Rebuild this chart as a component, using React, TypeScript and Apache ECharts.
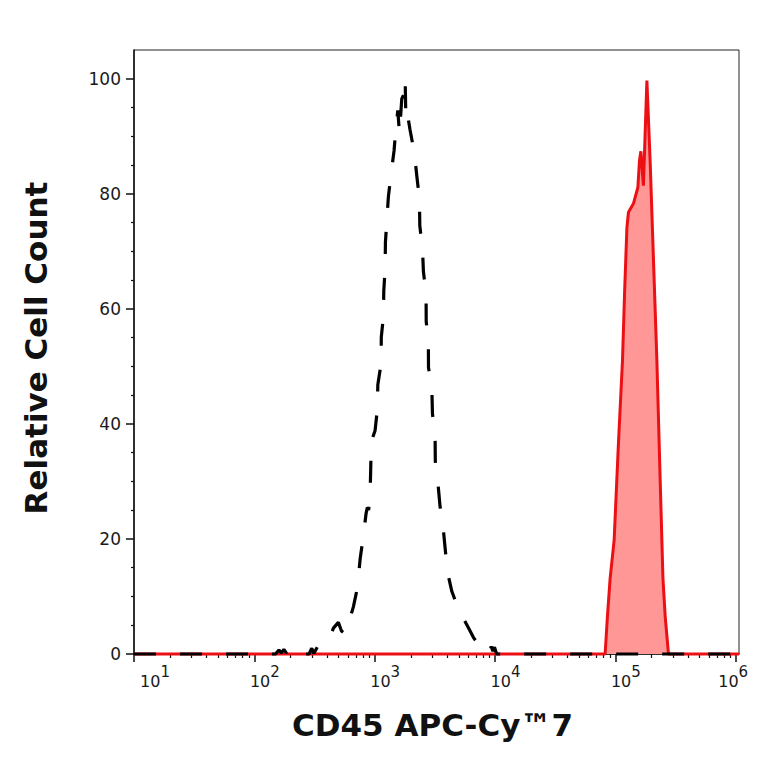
import React, { useEffect, useRef } from 'react';
import * as echarts from 'echarts';

// Isotype / unstained control (black dashed): intensity vs relative count
const controlIntensity = [
  10, 150, 160, 168, 176, 184, 193, 205, 285, 300, 312, 340, 412, 454, 499, 530, 568, 620, 665, 718,
  757, 805, 849, 870, 890, 916, 929, 946, 1007, 1052, 1062, 1130, 1135, 1183, 1190, 1222, 1228, 1259,
  1300, 1361, 1449, 1479, 1556, 1607, 1679, 1760, 1791, 1815, 1849, 1968, 2138, 2239, 2355, 2370,
  2495, 2541, 2673, 2680, 2793, 2800, 2985, 3020, 3177, 3190, 3350, 3499, 3724, 3899, 4102, 4375,
  4730, 5129, 5458, 6025, 6607, 7516, 8511, 9000, 9300, 9600, 9900, 10300, 1065000,
];
const controlCount = [
  0, 0, 0.7, 0.2, 0.8, 0.2, 0.9, 0, 0, 1.0, 0.1, 1.5, 2.2, 4.5, 5.5, 4.0, 3.5, 6.0, 8.2, 11.5,
  16.5, 20.5, 24.5, 25.5, 25.0, 27.5, 33.2, 37.2, 38.8, 42.5, 46.8, 50.5, 55.1, 58.8, 63.1, 67.1, 71.5, 75.1,
  79.5, 83.1, 87.5, 89.8, 94.5, 90.5, 96.5, 97.5, 100, 93.5, 94.5, 91.1, 87.1, 83.1, 79.1, 74.5,
  70.5, 66.5, 62.5, 57.8, 54.5, 49.8, 46.2, 41.8, 37.8, 33.5, 29.8, 25.5, 21.5, 17.2, 13.5, 10.9,
  9.0, 7.2, 6.2, 4.5, 2.9, 1.2, 0.2, 0.3, 1.3, 0.5, 1.2, 0, 0,
];

// CD45 APC-Cy7 stained (red filled)
const stainedIntensity = [
  10, 82200, 85900, 90500, 97700, 106000, 114600, 119200, 124700, 128500, 141300, 153800, 158500,
  162900, 171000, 182800, 194500, 207500, 221300, 236000, 248500, 259500, 276300, 1065000,
];
const stainedCount = [
  0, 0, 6.5, 13.2, 19.8, 36.5, 51, 62.6, 74.1, 76.8, 78.3, 81.1, 85.7,
  87.4, 81.4, 99.7, 85.7, 68.3, 51, 29.8, 13.2, 6.5, 0, 0,
];

const xDecades = [10, 100, 1000, 10000, 100000, 1000000];
const xMinorMultipliers = [2, 3, 4, 5, 6, 7, 8, 9];
const yMajorTicks = [0, 20, 40, 60, 80, 100];
const yMinorTicks = [5, 10, 15, 25, 30, 35, 45, 50, 55, 65, 70, 75, 85, 90, 95];

const xMin = 10;
const xMax = 1065000;
const yMin = 0;
const yMax = 105;

const xMinorTicks: number[] = [];
xDecades.slice(0, 5).forEach((d) => xMinorMultipliers.forEach((m) => xMinorTicks.push(d * m)));

const zip = (a: number[], b: number[]) => a.map((v, i) => [v, b[i]]);

const labelFont = 'DejaVu Sans';
const tickColor = '#111';
const textColor = '#1a1a1a';

export default function App() {
  const ref = useRef<HTMLDivElement>(null);
  useEffect(() => {
    const chart = echarts.init(ref.current as HTMLDivElement, null, { renderer: 'svg' });
    const option: any = {
      animation: false,
      backgroundColor: '#fff',
      grid: {
        left: 134,
        right: 25,
        top: 50,
        bottom: 110,
        show: true,
        borderColor: '#222',
        borderWidth: 1,
        backgroundColor: 'transparent',
        outerBoundsMode: 'none',
        containLabel: false,
      },
      xAxis: [
        {
          type: 'log',
          logBase: 10,
          min: xMin,
          max: xMax,
          position: 'bottom',
          axisLine: { show: true, lineStyle: { color: tickColor, width: 1.5 } },
          axisTick: { show: true, inside: false, length: 8, customValues: xDecades, lineStyle: { color: tickColor, width: 1.5 } },
          minorTick: { show: false },
          splitLine: { show: false },
          axisLabel: {
            customValues: xDecades,
            margin: 10,
            formatter: (v: number) => {
              const e = Math.round(Math.log10(v));
              if (e === 1) return `{bf|10}{sup|${e}}`;
              if (e === 6) return `{b|10}{supl|${e}}`;
              return `{b|10}{sup|${e}}`;
            },
            rich: {
              b: { fontFamily: labelFont, fontSize: 16, color: textColor, padding: [0, 0, 0, 21] },
              bf: { fontFamily: labelFont, fontSize: 16, color: textColor, padding: [0, 0, 0, 42] },
              sup: { fontFamily: labelFont, fontSize: 15, color: textColor, padding: [0, 0, 20, 0] },
              supl: { fontFamily: labelFont, fontSize: 15, color: textColor, padding: [0, 26, 20, 0] },
            },
          },
          name: 'CD45 APC-Cy™7',
          nameLocation: 'middle',
          nameGap: 55,
          nameTextStyle: {
            fontFamily: labelFont,
            fontWeight: 'bold',
            fontSize: 31,
            color: '#111',
            padding: [0, 8, 0, 0],
          },
        },
        {
          type: 'log',
          logBase: 10,
          min: xMin,
          max: xMax,
          position: 'bottom',
          axisLine: { show: false },
          axisTick: { show: true, inside: false, length: 4, customValues: xMinorTicks, lineStyle: { color: tickColor, width: 1.2 } },
          axisLabel: { show: false },
          splitLine: { show: false },
        },
      ],
      yAxis: [
        {
          type: 'value',
          min: yMin,
          max: yMax,
          position: 'left',
          axisLine: { show: true, lineStyle: { color: tickColor, width: 1.5 } },
          axisTick: { show: true, inside: false, length: 8, customValues: yMajorTicks, lineStyle: { color: tickColor, width: 1.5 } },
          splitLine: { show: false },
          axisLabel: {
            customValues: yMajorTicks,
            margin: 13,
            fontFamily: labelFont,
            fontSize: 17,
            color: textColor,
          },
          name: 'Relative Cell Count',
          nameLocation: 'middle',
          nameGap: 83,
          nameRotate: 90,
          nameTextStyle: {
            fontFamily: labelFont,
            fontWeight: 'bold',
            fontSize: 31,
            color: '#111',
            padding: [0, 0, 0, 8],
          },
        },
        {
          type: 'value',
          min: yMin,
          max: yMax,
          position: 'left',
          axisLine: { show: false },
          axisTick: { show: true, inside: false, length: 3, customValues: yMinorTicks, lineStyle: { color: tickColor, width: 1.2 } },
          axisLabel: { show: false },
          splitLine: { show: false },
        },
      ],
      series: [
        {
          name: 'CD45 APC-Cy7',
          type: 'line',
          xAxisIndex: 0,
          yAxisIndex: 0,
          data: zip(stainedIntensity, stainedCount),
          showSymbol: false,
          clip: false,
          lineStyle: { color: '#ec0f14', width: 3 },
          areaStyle: { color: '#ff9797', opacity: 1 },
          z: 3,
        },
        {
          name: 'Control',
          type: 'line',
          xAxisIndex: 0,
          yAxisIndex: 0,
          data: zip(controlIntensity, controlCount),
          showSymbol: false,
          clip: false,
          lineStyle: { color: '#000', width: 3.2, type: [22, 24] },
          z: 4,
        },
      ],
    };
    chart.setOption(option);
    return () => chart.dispose();
  }, []);
  return (
    <div
      ref={ref}
      style={{ position: 'absolute', left: 0, top: 0, width: 764, height: 764, background: '#fff' }}
    />
  );
}
